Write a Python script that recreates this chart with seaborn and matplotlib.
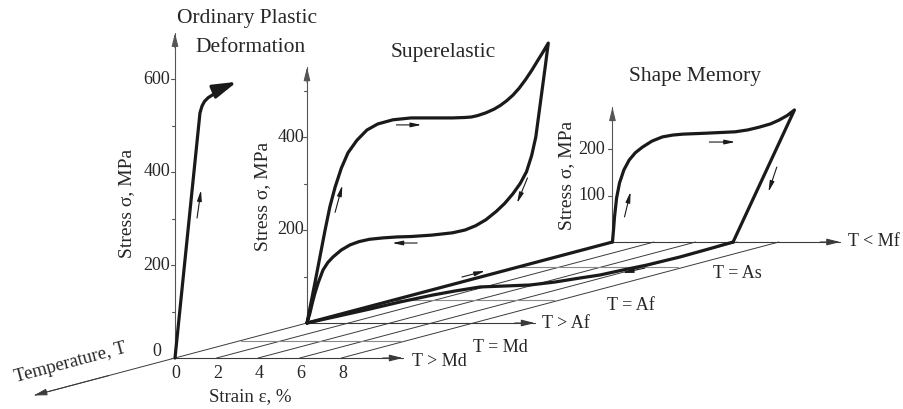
import numpy as np
import matplotlib
matplotlib.use("Agg")
import matplotlib.pyplot as plt
import seaborn as sns
import pandas as pd

sns.set_theme(style="white")
plt.rcParams['font.family'] = ['Liberation Serif', 'DejaVu Serif']

# ---------------- data ----------------
strain_ticks = [0, 2, 4, 6, 8]
plastic_major = [0, 200, 400, 600]
plastic_minor = [100, 300, 500]
super_major = [200, 400]
super_minor = [100, 300, 500]
sm_major = [100, 200]

plane_labels = ["T > Md", "T = Md", "T > Af", "T = Af", "T = As", "T < Mf"]
plane_depth = [0.0, 0.5, 1.0, 1.66, 2.6, 3.314]

# ordinary plastic deformation (strain %, stress MPa), plane T > Md
plastic_strain = [0.0, 1.2, 1.3, 1.42, 1.6, 1.85, 2.16, 2.55, 2.98]
plastic_stress = [0, 527, 542, 552, 560, 567, 576, 586, 594]

# superelastic loop, plane T > Af
super_strain = [0.0, 0.44, 0.87, 1.1, 1.35, 1.65, 1.97, 2.4, 2.88, 3.4, 4.13, 5.0,
                6.0, 7.0, 7.6, 7.9, 8.2, 8.6, 9.0, 9.3, 9.6, 9.9, 10.2, 10.5, 10.8,
                11.1, 11.35, 11.6,
                11.45, 11.3, 11.15, 11.0, 10.8, 10.55, 10.25, 9.9, 9.5, 9.1, 8.6,
                8.1, 7.6, 7.0, 6.0, 5.0, 4.3, 3.65, 3.0, 2.5, 2.07, 1.65, 1.25,
                1.0, 0.77, 0.55, 0.38, 0.25, 0.14, 0.0]
super_stress = [0, 100, 200, 250, 292, 333, 366, 393, 415, 428, 437, 441,
                441, 441, 442, 443, 446, 452, 460, 468, 478, 490, 505, 523, 543,
                565, 583, 602,
                550, 500, 450, 400, 360, 325, 300, 278, 257, 240, 222,
                209, 200, 194, 189, 186, 185, 183, 180, 175, 168, 157, 142,
                130, 114, 88, 64, 42, 21, 0]

# shape memory loop, plane T < Mf
sm_strain = [0.0, 0.05, 0.1, 0.2, 0.34, 0.55, 0.8, 1.1, 1.44, 1.9, 2.4, 2.9, 3.4,
             4.5, 5.9, 6.5, 7.06, 7.6, 8.0, 8.4, 8.75, 5.8]
sm_stress = [0, 25, 54, 95, 127, 155, 176, 192, 204, 217, 226, 230, 232,
             234, 237, 241, 247, 254, 262, 272, 284, 0]

# strain recovery on heating (depth position, strain %)
recovery_depth = [3.314, 3.086, 2.886, 2.657, 2.514, 2.371, 2.286, 2.171, 2.086,
                  2.057, 2.03, 1.914, 1.8, 1.6, 1.4, 1.2, 1.0]
recovery_strain = [5.8, 5.9, 5.96, 5.83, 5.58, 5.38, 4.97, 4.49, 3.83,
                   2.81, 1.79, 1.31, 0.98, 0.66, 0.49, 0.25, 0.0]

# ---------------- projection (layout) ----------------
OX, OY = 175.0, 358.0
SX, SY = 20.8, 0.465
DX, DY = 132.0, 35.0


def P(s, sig, d):
    s = np.asarray(s, float)
    sig = np.asarray(sig, float)
    d = np.asarray(d, float)
    return OX + SX * s + DX * d, OY - SY * sig - DY * d


fig = plt.figure(figsize=(9.04, 4.09), dpi=100)
ax = fig.add_axes([0, 0, 1, 1])
ax.set_facecolor("white")

GRID = "#3a3a3a"


def arrow(p0, p1, lw=0.8, hl=0.5, hw=0.12, ms=10, color="k"):
    ax.annotate("", xy=p1, xytext=p0,
                arrowprops=dict(arrowstyle=f"-|>,head_length={hl},head_width={hw}",
                                lw=lw, color=color, mutation_scale=ms,
                                shrinkA=0, shrinkB=0))


d_max = plane_depth[-1]
# depth (temperature) lines from each strain tick
for s in strain_ticks:
    d0 = -1.06 if s == 0 else 0.0
    x, y = P([s, s], [0, 0], [d0, d_max])
    ax.plot(x, y, color=GRID, lw=0.7, zorder=1)
# temperature arrow
x, y = P([0, 0], [0, 0], [-0.5, -1.07])
arrow((x[0], y[0]), (x[1], y[1]), lw=0.7, hl=0.8, hw=0.2, color=GRID)

# plane strain lines
for lab, d in zip(plane_labels, plane_depth):
    if lab in ("T > Md", "T > Af", "T < Mf"):
        x, y = P([0, 10.95], [0, 0], [d, d])
        ax.plot(x, y, color=GRID, lw=0.8, zorder=1)
        arrow((x[1] - 20, y[1]), (x[1], y[1]), lw=0.8, hl=0.8, hw=0.2, color=GRID)
    else:
        x, y = P([0, 7.7], [0, 0], [d, d])
        ax.plot(x, y, color="#8a8a8a", lw=0.8, zorder=1)

# vertical stress axes
axes_spec = [(0.0, 699, plastic_major, plastic_minor, 170),
             (1.0, 550, super_major, super_minor, 304),
             (d_max, 290, sm_major, [], 605)]
for d, top, majors, minors, lx in axes_spec:
    x, y = P([0, 0], [0, top], [d, d])
    ax.plot(x, y, color="#555555", lw=0.8, zorder=1)
    arrow((x[1], y[1] + 15), (x[1], y[1]), lw=0.8, hl=0.8, hw=0.2, color="#555555")
    for m in majors:
        tx, ty = P(0, m, d)
        ax.plot([tx - 4, tx], [ty, ty], color="#555555", lw=0.8)
        if m != 0:
            ax.text(lx, ty, str(m), ha="right", va="center", fontsize=13)
    for m in minors:
        tx, ty = P(0, m, d)
        ax.plot([tx - 3, tx], [ty, ty], color="#555555", lw=0.8)
ax.text(161, 352, "0", ha="right", va="center", fontsize=13)

# strain tick labels
for s in strain_ticks:
    x, y = P(s, 0, 0)
    ax.text(x + 1, 374, str(s), ha="center", va="center", fontsize=13)

LW = 2.3
# thick floor: cooling at zero strain + recovery on heating
x, y = P([0, 0], [0, 0], [1.0, d_max])
ax.plot(x, y, color="k", lw=LW, solid_capstyle="round", zorder=3)
rx, ry = P(recovery_strain, np.zeros(len(recovery_strain)), recovery_depth)
sns.lineplot(x=rx, y=ry, sort=False, estimator=None, color="k", lw=LW, ax=ax, zorder=3)

# curves in the planes
px, py = P(plastic_strain, plastic_stress, np.zeros(len(plastic_strain)))
sns.lineplot(x=px[:-1], y=py[:-1], sort=False, estimator=None, color="k", lw=LW, ax=ax, zorder=3)
arrow((px[-2], py[-2]), (px[-1], py[-1]), lw=LW, hl=1.2, hw=0.35, ms=12)

sx, sy = P(super_strain, super_stress, np.ones(len(super_strain)))
sns.lineplot(x=sx, y=sy, sort=False, estimator=None, color="k", lw=LW, ax=ax, zorder=3)

mx, my = P(sm_strain, sm_stress, np.full(len(sm_strain), d_max))
sns.lineplot(x=mx, y=my, sort=False, estimator=None, color="k", lw=LW, ax=ax, zorder=3)
for line in ax.lines:
    line.set_solid_joinstyle("round")

# small direction arrows (strain, stress, depth)
small_arrows = [
    ((1.06, 301, 0), (1.25, 361, 0)),
    ((1.35, 238, 1), (1.7, 296, 1)),
    ((4.3, 426, 1), (5.5, 426, 1)),
    ((5.3, 172, 1), (4.1, 172, 1)),
    ((10.6, 312, 1), (10.1, 258, 1)),
    ((0.58, 54, d_max), (0.87, 108, d_max)),
    ((4.66, 215, d_max), (5.9, 215, d_max)),
    ((7.9, 161, d_max), (7.5, 108, d_max)),
    ((-0.89, 0, 2.314), (-0.87, 0, 2.486)),
    ((6.28, 0, 2.57), (6.1, 0, 2.43)),
]
for a, b in small_arrows:
    p0 = P(*a)
    p1 = P(*b)
    arrow((float(p0[0]), float(p0[1])), (float(p1[0]), float(p1[1])), lw=0.8, hl=0.7, hw=0.15, ms=9)

# plane labels
label_pos = [(412, 361), (473, 347), (542, 323), (607, 305), (713, 273), (848, 242)]
for lab, (lx, ly) in zip(plane_labels, label_pos):
    ax.text(lx, ly, lab, ha="left", va="center", fontsize=13)

# titles and axis labels
ax.text(247, 19, "Ordinary Plastic", ha="center", va="center", fontsize=15.5)
ax.text(251, 47, "Deformation", ha="center", va="center", fontsize=15.5)
ax.text(443, 52, "Superelastic", ha="center", va="center", fontsize=15.5)
ax.text(695, 77, "Shape Memory", ha="center", va="center", fontsize=15.5)
for (x0, y0) in [(127, 203), (263, 196), (567, 175)]:
    ax.text(x0, y0, "Stress σ, MPa", rotation=90, ha="center", va="center", fontsize=14)
ax.text(250, 397, "Strain ε, %", ha="center", va="center", fontsize=13.5)
ax.text(70, 363, "Temperature, T", rotation=15, ha="center", va="center",
        fontsize=13.5, rotation_mode="anchor")

ax.set_xlim(0, 904)
ax.set_ylim(409, 0)
ax.axis("off")
fig.savefig("out.png", dpi=100, facecolor="white")
